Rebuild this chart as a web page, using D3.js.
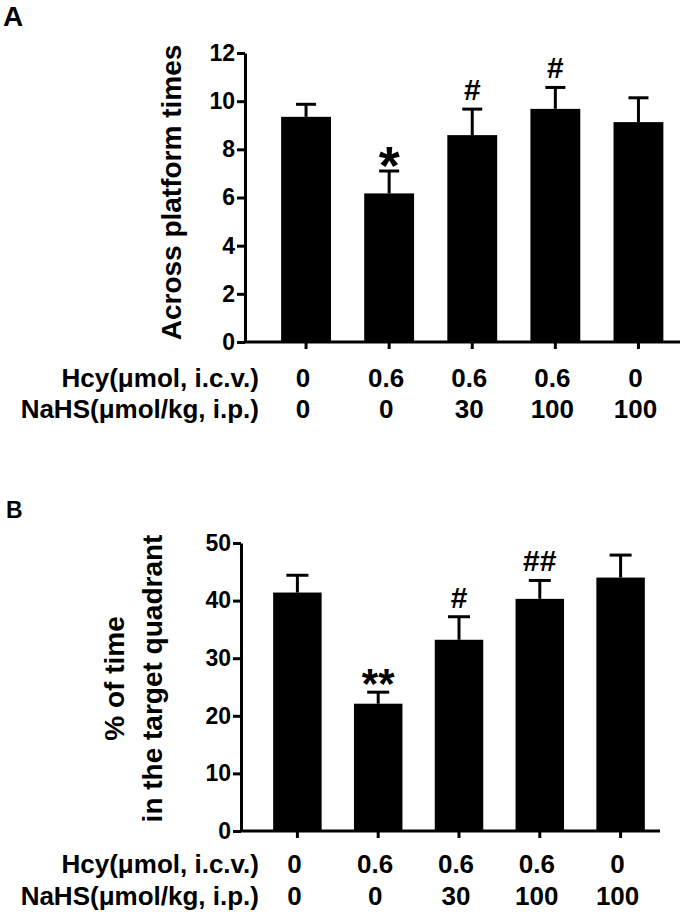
<!DOCTYPE html>
<html>
<head>
<meta charset="utf-8">
<script src="https://cdn.jsdelivr.net/npm/d3@7"></script>
<style>
  html, body { margin: 0; padding: 0; background: #fff; }
  svg { display: block; font-family: "Liberation Sans", Arial, sans-serif; font-weight: bold; }
</style>
</head>
<body>
<svg id="fig" width="684" height="914"></svg>
<script>
const groups = [0, 1, 2, 3, 4];
const hcyLabels = ["0", "0.6", "0.6", "0.6", "0"];
const nahsLabels = ["0", "0", "30", "100", "100"];

const acrossMean = [9.35, 6.17, 8.59, 9.68, 9.13];
const acrossSem = [0.52, 0.93, 1.08, 0.89, 1.01];
const acrossMarks = ["", "*", "#", "#", ""];
const acrossTicks = [0, 2, 4, 6, 8, 10, 12];

const quadrantMean = [41.4, 22.1, 33.2, 40.3, 44.0];
const quadrantSem = [3.0, 2.0, 4.0, 3.2, 3.9];
const quadrantMarks = ["", "**", "#", "##", ""];
const quadrantTicks = [0, 10, 20, 30, 40, 50];

const svg = d3.select("#fig");

drawPanel({
  letter: "A", letterX: 3, letterY: 26, letterSize: 28,
  mean: acrossMean, sem: acrossSem, marks: acrossMarks,
  domain: [0, 12], ticks: acrossTicks,
  axisX: 245, top: 53, bottom: 342,
  bandRange: [264.5, 680], axisEnd: 680, capWidth: 20,
  title: ["Across platform times"], titleX: [181], titleY: 192.5,
  rowY: [387, 418]
});

drawPanel({
  letter: "B", letterX: 6, letterY: 518, letterSize: 23,
  mean: quadrantMean, sem: quadrantSem, marks: quadrantMarks,
  domain: [0, 50], ticks: quadrantTicks,
  axisX: 241, top: 543, bottom: 831,
  bandRange: [257, 661], axisEnd: 660, capWidth: 22,
  title: ["% of time", "in the target quadrant"], titleX: [124, 162], titleY: 678.5,
  rowY: [873, 905]
});

function markStyle(mark) {
  // asterisks sit high in the em box, so they need a larger size and a lower baseline
  if (mark === "*") return { size: 54, dy: 13 };
  if (mark === "**") return { size: 42, dy: 6 };
  return { size: 30, dy: -9 };
}

function drawPanel(p) {
  const g = svg.append("g");
  const y = d3.scaleLinear().domain(p.domain).range([p.bottom, p.top]);
  const x = d3.scaleBand().domain(groups).range(p.bandRange).paddingInner(0.4).paddingOuter(0.2);
  const cx = i => x(i) + x.bandwidth() / 2;

  g.append("text")
    .attr("x", p.letterX)
    .attr("y", p.letterY)
    .attr("font-size", p.letterSize)
    .text(p.letter);

  // bars
  g.selectAll("rect.bar")
    .data(groups)
    .join("rect")
    .attr("class", "bar")
    .attr("x", i => x(i))
    .attr("width", x.bandwidth())
    .attr("y", i => y(p.mean[i]))
    .attr("height", i => y(0) - y(p.mean[i]))
    .attr("fill", "#000");

  // upper error bars
  const err = g.selectAll("g.err")
    .data(groups)
    .join("g")
    .attr("class", "err")
    .attr("stroke", "#000")
    .attr("stroke-width", 3);
  err.append("line")
    .attr("x1", cx).attr("x2", cx)
    .attr("y1", i => y(p.mean[i]))
    .attr("y2", i => y(p.mean[i] + p.sem[i]));
  err.append("line")
    .attr("x1", i => cx(i) - p.capWidth / 2)
    .attr("x2", i => cx(i) + p.capWidth / 2)
    .attr("y1", i => y(p.mean[i] + p.sem[i]))
    .attr("y2", i => y(p.mean[i] + p.sem[i]));

  // significance marks
  g.selectAll("text.mark")
    .data(groups.filter(i => p.marks[i]))
    .join("text")
    .attr("class", "mark")
    .attr("text-anchor", "middle")
    .attr("x", cx)
    .attr("y", i => y(p.mean[i] + p.sem[i]) + markStyle(p.marks[i]).dy)
    .attr("font-size", i => markStyle(p.marks[i]).size)
    .text(i => p.marks[i]);

  // y axis
  const yAxis = g.append("g")
    .attr("transform", `translate(${p.axisX},0)`)
    .call(d3.axisLeft(y).tickValues(p.ticks).tickSize(8).tickPadding(2).tickSizeOuter(0));
  yAxis.selectAll("path, line").attr("stroke", "#000").attr("stroke-width", 3);
  yAxis.selectAll("text")
    .attr("fill", "#000")
    .attr("font-size", 23)
    .attr("font-family", "inherit")
    .attr("font-weight", "bold");

  // x axis
  const xAxis = g.append("g")
    .attr("transform", `translate(0,${p.bottom})`)
    .call(d3.axisBottom(x).tickSize(7).tickFormat(""));
  xAxis.select(".domain").remove();
  xAxis.selectAll("line").attr("stroke", "#000").attr("stroke-width", 3);
  g.append("line")
    .attr("x1", p.axisX).attr("x2", p.axisEnd)
    .attr("y1", p.bottom).attr("y2", p.bottom)
    .attr("stroke", "#000").attr("stroke-width", 3);

  // axis title
  p.title.forEach((line, k) => {
    g.append("text")
      .attr("transform", `translate(${p.titleX[k]},${p.titleY}) rotate(-90)`)
      .attr("text-anchor", "middle")
      .attr("font-size", 28)
      .text(line);
  });

  // treatment rows
  const rows = [["Hcy(μmol, i.c.v.)", hcyLabels], ["NaHS(μmol/kg, i.p.)", nahsLabels]];
  rows.forEach(([name, labels], k) => {
    g.append("text")
      .attr("x", 259)
      .attr("y", p.rowY[k])
      .attr("text-anchor", "end")
      .attr("font-size", 26)
      .text(name);
    g.selectAll(null)
      .data(groups)
      .join("text")
      .attr("x", i => cx(i) - 3)
      .attr("y", p.rowY[k])
      .attr("text-anchor", "middle")
      .attr("font-size", 26)
      .text(i => labels[i]);
  });
}
</script>
</body>
</html>
